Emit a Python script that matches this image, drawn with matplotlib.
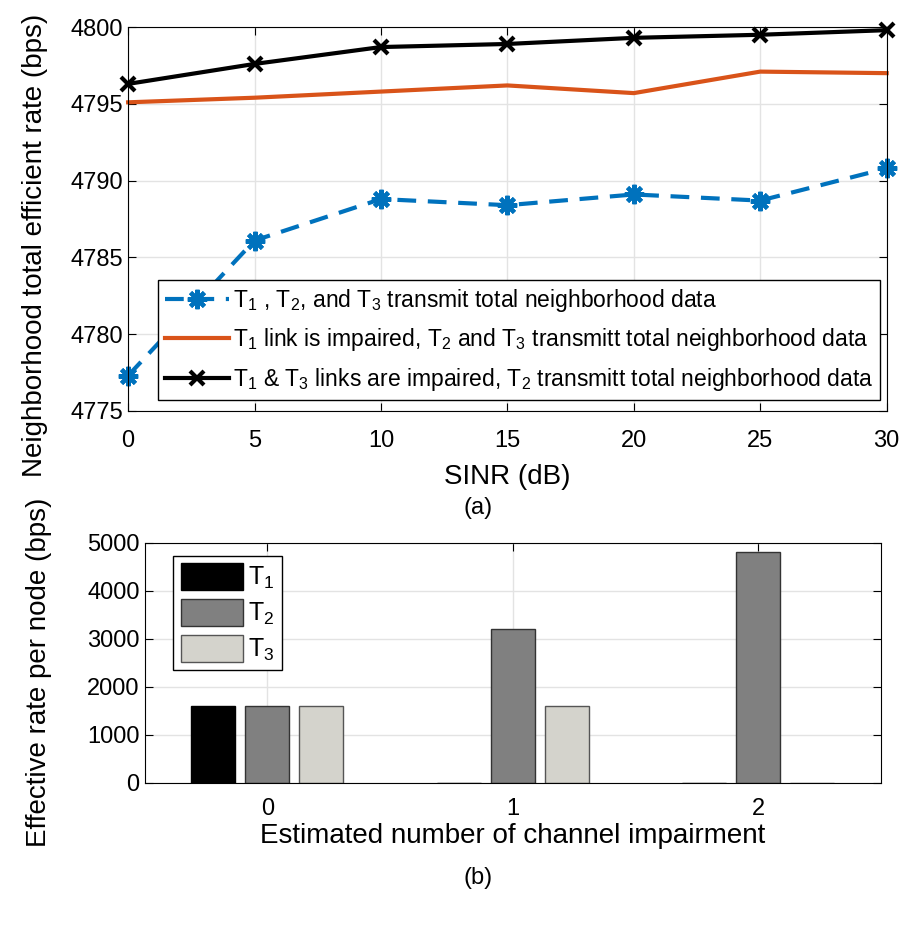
import matplotlib
matplotlib.use('Agg')
import numpy as np
import matplotlib.pyplot as plt

plt.rcParams['font.family'] = ['Liberation Sans', 'DejaVu Sans']
plt.rcParams['mathtext.fontset'] = 'custom'
plt.rcParams['mathtext.rm'] = 'Liberation Sans'
plt.rcParams['mathtext.it'] = 'Liberation Sans'

# top panel data
sinr = [0, 5, 10, 15, 20, 25, 30]
rate_all = [4777.3, 4786.1, 4788.8, 4788.4, 4789.1, 4788.7, 4790.8]
rate_t1_imp = [4795.1, 4795.4, 4795.8, 4796.2, 4795.7, 4797.1, 4797.0]
rate_t1t3_imp = [4796.3, 4797.6, 4798.7, 4798.9, 4799.3, 4799.5, 4799.8]

# bottom panel data
impairments = [0, 1, 2]
t1_rate = [1600, 0, 0]
t2_rate = [1600, 3200, 4800]
t3_rate = [1600, 1600, 0]

fig = plt.figure(figsize=(9.15, 9.34), dpi=100)

ax1 = fig.add_axes([0.140, 0.560, 0.829, 0.411])
ax1.plot(sinr, rate_all, color='#0072BD', linestyle='--', dashes=(4.5, 2.8), linewidth=3,
         marker=(8, 2, 0), markersize=14, mew=3, clip_on=False,
         label=r'T$_1$ , T$_2$, and T$_3$ transmit total neighborhood data')
ax1.plot(sinr, rate_t1_imp, color='#D95319', linewidth=3, clip_on=False,
         label=r'T$_1$ link is impaired, T$_2$ and T$_3$ transmitt total neighborhood data')
ax1.plot(sinr, rate_t1t3_imp, color='black', linewidth=3, marker='x', markersize=10, mew=3,
         clip_on=False,
         label=r'T$_1$ & T$_3$ links are impaired, T$_2$ transmitt total neighborhood data')
ax1.set_xlim(0, 30)
ax1.set_ylim(4775, 4800)
ax1.set_xticks(sinr)
ax1.set_yticks(np.arange(4775, 4801, 5))
ax1.grid(True, color='#e3e3e3', linewidth=1)
ax1.set_axisbelow(True)
ax1.tick_params(direction='in', top=True, right=True, labelsize=17, length=6)
ax1.tick_params(axis='x', pad=14)
ax1.set_xlabel('SINR (dB)', fontsize=20, labelpad=8)
ax1.set_ylabel('Neighborhood total efficient rate (bps)', fontsize=20)
ax1.yaxis.set_label_coords(-0.105, 0.432)
leg1 = ax1.legend(loc='lower right', fontsize=16.5, fancybox=False, edgecolor='black',
                  framealpha=1, handlelength=2.8, handletextpad=0.15, borderpad=0.3,
                  labelspacing=0.55, bbox_to_anchor=(0.991, 0.029), borderaxespad=0)
leg1.get_frame().set_linewidth(1)
fig.text(0.522, 0.456, '(a)', fontsize=17, ha='center', va='center')

ax2 = fig.add_axes([0.158, 0.162, 0.805, 0.257])
x = np.array(impairments)
w = 0.18
ax2.bar(x - 0.22, t1_rate, w, color='black', edgecolor='black', linewidth=1, label=r'T$_1$')
ax2.bar(x, t2_rate, w, color='#808080', edgecolor='#333333', linewidth=1, label=r'T$_2$')
ax2.bar(x + 0.22, t3_rate, w, color='#d4d3cc', edgecolor='#555555', linewidth=1, label=r'T$_3$')
ax2.set_xlim(-0.5, 2.5)
ax2.set_ylim(0, 5000)
ax2.set_xticks(impairments)
ax2.set_yticks(np.arange(0, 5001, 1000))
ax2.grid(True, color='#e3e3e3', linewidth=1)
ax2.set_axisbelow(True)
ax2.tick_params(direction='in', top=True, right=True, labelsize=17, length=6)
ax2.tick_params(axis='x', pad=11)
ax2.set_xlabel('Estimated number of channel impairment', fontsize=20, labelpad=2)
ax2.set_ylabel('Effective rate per node (bps)', fontsize=20)
ax2.yaxis.set_label_coords(-0.126, 0.458)
leg2 = ax2.legend(loc='upper left', fontsize=18, fancybox=False, edgecolor='black',
                  framealpha=1, handlelength=2.5, handleheight=1.3, handletextpad=0.2,
                  borderpad=0.3, labelspacing=0.3, bbox_to_anchor=(0.039, 0.946),
                  borderaxespad=0)
leg2.get_frame().set_linewidth(1)
fig.text(0.522, 0.060, '(b)', fontsize=17, ha='center', va='center')

plt.savefig('out.png', dpi=100)
